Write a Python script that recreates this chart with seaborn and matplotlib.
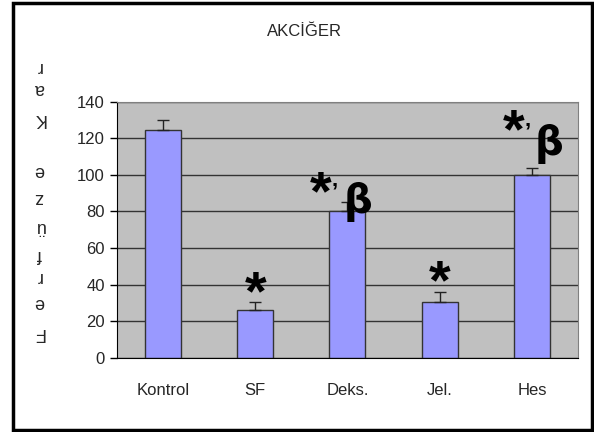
import numpy as np
import pandas as pd
import seaborn as sns
import matplotlib
matplotlib.use("Agg")
import matplotlib.pyplot as plt
from matplotlib.patches import Rectangle

groups = ["Kontrol", "SF", "Deks.", "Jel.", "Hes"]
means = [124.5, 26, 80, 30.5, 100]
errs = [5.5, 4.5, 5, 5.5, 4]
# significance marks: (group index, x offset, y value)
stars = [(1, 0.0, 34), (2, -0.29, 89), (3, 0.0, 40), (4, -0.2, 123)]
commas = [(2, -0.135, 94), (4, -0.044, 127)]
betas = [(2, 0.11, 85), (4, 0.18, 117)]
ylabel_chars = ["r", "a", "K", "e", "z", "ü", "f", "r", "e", "F"]
ylabel_pos = [67, 89, 118, 170, 197, 227, 255, 277, 302, 332]

sns.set_style("white")
plt.rcParams["font.family"] = ["Liberation Sans", "DejaVu Sans"]

df = pd.DataFrame({"grup": groups, "deger": means})

fig = plt.figure(figsize=(5.94, 4.32), dpi=100)
ax = fig.add_axes([0.1965, 0.172, 0.777, 0.5926])

sns.barplot(data=df, x="grup", y="deger", color="#9999FF", saturation=1,
            width=0.39, edgecolor="#333333", linewidth=1, errorbar=None, ax=ax)
xs = np.arange(len(groups))
ax.errorbar(xs, means, yerr=[np.zeros(len(errs)), errs], fmt="none",
            ecolor="#222222", elinewidth=1, capsize=4, capthick=1, zorder=1)

ax.set_facecolor("#C0C0C0")
ax.set_ylim(0, 140)
ax.set_xlim(-0.5, 4.5)
ax.set_yticks(range(0, 141, 20))
ax.yaxis.grid(True, color="#333333", linewidth=1)
ax.set_axisbelow(True)
ax.set_xticks(xs)
ax.set_xticklabels(groups, fontsize=12)
ax.tick_params(axis="x", length=0, pad=18)
ax.set_xticks(np.arange(-0.5, 5, 1), minor=True)
ax.tick_params(axis="x", which="minor", length=5, color="black", width=1)
ax.tick_params(axis="y", length=5, color="black", width=1, labelsize=12, left=True)
ax.set_xlabel("")
ax.set_ylabel("")
for s in ["top", "right"]:
    ax.spines[s].set_color("#808080")
for s in ["left", "bottom"]:
    ax.spines[s].set_color("black")

for i, dx, y in stars:
    ax.text(i + dx, y, "*", ha="center", va="center", fontsize=40,
            fontweight="bold", color="black", zorder=5)
for i, dx, y in commas:
    ax.text(i + dx, y, ",", ha="center", va="baseline", fontsize=16,
            fontweight="bold", color="black", zorder=5)
for i, dx, y in betas:
    ax.text(i + dx, y, "β", ha="center", va="center", fontsize=29,
            fontweight="bold", color="black", family="DejaVu Sans", zorder=5)

fig.text(0.513, 0.926, "AKCİĞER", ha="center", va="center", fontsize=12)

# garbled vertical axis label (turned glyphs, stacked)
for ch, ypx in zip(ylabel_chars, ylabel_pos):
    fig.text(0.066, 1 - ypx / 432, ch, ha="center", va="center", fontsize=13,
             rotation=180)

fig.patches.append(Rectangle((13 / 594, 2 / 432), 579 / 594, 427 / 432,
                             transform=fig.transFigure, fill=False,
                             edgecolor="black", linewidth=2.5))

fig.savefig("out.png", dpi=100)
